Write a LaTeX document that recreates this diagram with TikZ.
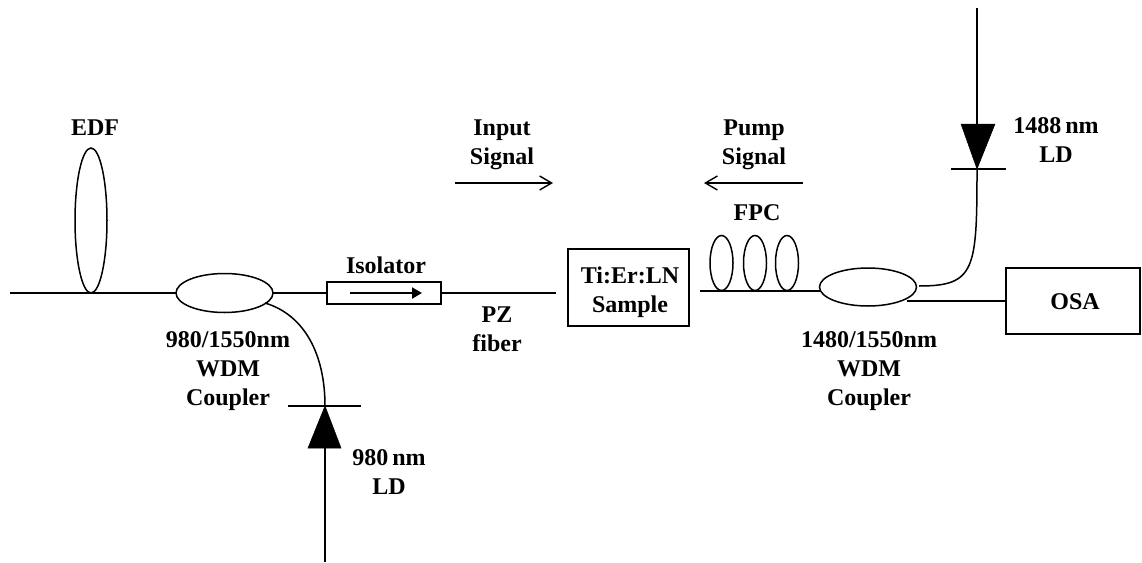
\documentclass[tikz,border=0pt]{standalone}
\usepackage{fontspec}
\setmainfont{Liberation Serif}
\usetikzlibrary{shapes.geometric,arrows.meta}
\tikzset{
  lbl/.style={font=\fontsize{24}{29}\selectfont\bfseries,align=center,inner sep=0pt},
  ell/.style={draw,ellipse,line width=1.5pt,inner sep=0pt,outer sep=0pt,fill=white},
  boxx/.style={draw,rectangle,line width=1.5pt,inner sep=0pt,outer sep=0pt,fill=white},
  wire/.style={line width=1.5pt},
  flow/.style={line width=1.4pt,-{Straight Barb[length=12pt,width=14pt,line width=1.4pt]}},
  diode/.style={fill=black,draw=black,line width=.5pt}
}
\begin{document}
\begin{tikzpicture}[x=1pt,y=-1pt]
\useasboundingbox (0,0) rectangle (1142,562);
% free ends and junctions
\coordinate (inL) at (10,293);
\coordinate (pzEnd) at (556,293);
\coordinate (fpcStart) at (700,291);
\coordinate (ldAbar) at (325,406);
\coordinate (ldAend) at (325,562);
\coordinate (ldAbase) at (325,448);
\coordinate (ldBbar) at (977,169);
\coordinate (ldBend) at (977,8);
\coordinate (ldBbase) at (977,124);
\coordinate (c2tap) at (907,301);
\coordinate (c2out) at (919,286);
\coordinate (c1tap) at (265,303);
\coordinate (barAl) at (288,406);
\coordinate (barAr) at (361,406);
\coordinate (barBl) at (951,169);
\coordinate (barBr) at (1006,169);
\coordinate (insL) at (455,183);
\coordinate (insR) at (553,183);
\coordinate (ppR) at (803,183);
\coordinate (ppL) at (704,183);
\coordinate (isoAl) at (350,293);
\coordinate (isoAr) at (422,293);
% components
\node[ell,minimum width=32pt,minimum height=145pt,fill=none] (edf) at (91,220.5) {};
\node[ell,minimum width=97pt,minimum height=39pt] (c1) at (224.5,293) {};
\node[boxx,minimum width=114pt,minimum height=22pt] (iso) at (384,293) {};
\node[boxx,minimum width=121pt,minimum height=77pt] (sample) at (628.5,287.5) {};
\node[ell,minimum width=97pt,minimum height=38pt] (c2) at (868,287) {};
\node[boxx,minimum width=134pt,minimum height=66pt] (osa) at (1073,301) {};
\draw[wire] (inL) -- (c1.west);
\draw[wire] (c1.east) -- (iso.west);
\draw[wire] (iso.east) -- (pzEnd);
\draw[line width=2pt,-{Triangle[length=10pt,width=11pt]}] (isoAl) -- (isoAr);
\draw[wire] (fpcStart) -- (c2.west |- fpcStart);
\foreach \n/\x in {p1/721.5,p2/755,p3/787}{
  \node[ell,minimum width=23pt,minimum height=55pt,fill=none] (\n) at (\x,263) {};
}
\draw[wire] (c2tap) -- (osa.west);
% 980 nm LD
\draw[wire] (c1tap) .. controls (305,315) and (325,355) .. (ldAbar);
\draw[wire] (barAl) -- (barAr);
\draw[diode] (ldAbar) -- (308,448) -- (341,448) -- cycle;
\draw[wire] (ldAbase) -- (ldAend);
% 1488 nm LD
\draw[wire] (c2out) .. controls (975,286) and (977,270) .. (ldBbar);
\draw[wire] (barBl) -- (barBr);
\draw[diode] (ldBbar) -- (961,124) -- (995,124) -- cycle;
\draw[wire] (ldBend) -- (ldBbase);
% signal arrows
\draw[flow] (insL) -- (insR);
\draw[flow] (ppR) -- (ppL);
% labels
\node[lbl] (tEDF) at (95,128) {EDF};
\node[lbl] (tC1) at (228,371) {980/1550nm\\WDM\\Coupler};
\node[lbl] (tIso) at (386,265) {Isolator};
\node[lbl] (tPZ) at (497,329.5) {PZ\\fiber};
\node[lbl] (tSample) at (630,292) {Ti:Er:LN\\Sample};
\node[lbl] (tIn) at (502,145) {Input\\Signal};
\node[lbl] (tPump) at (754,145) {Pump\\Signal};
\node[lbl] (tFPC) at (757,213) {FPC};
\node[lbl] (tC2) at (869,371) {1480/1550nm\\WDM\\Coupler};
\node[lbl] (tOSA) at (1075,302) {OSA};
\node[lbl] (t1488) at (1056,140) {1488\,nm\\LD};
\node[lbl] (t980) at (389,472.5) {980\,nm\\LD};
\end{tikzpicture}
\end{document}
